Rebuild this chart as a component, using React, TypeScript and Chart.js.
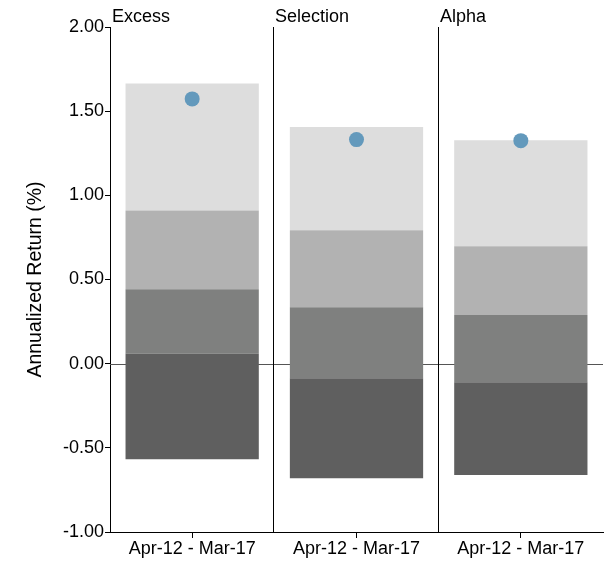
import React, { useEffect, useRef } from "react";
import { Chart, registerables } from "chart.js";

Chart.register(...registerables);

const categories = ["Excess", "Selection", "Alpha"];
const periodLabel = "Apr-12 - Mar-17";
const bandBottom = [-0.568, -0.681, -0.661];
const bandQ1 = [0.06, -0.087, -0.11];
const bandMedian = [0.442, 0.335, 0.289];
const bandQ3 = [0.91, 0.793, 0.698];
const bandTop = [1.664, 1.406, 1.327];
const actualReturn = [1.573, 1.331, 1.325];
const yTicks = [-1, -0.5, 0, 0.5, 1, 1.5, 2];

const FONT = "'Liberation Sans', Arial, Helvetica, sans-serif";

const panelPlugin = {
  id: "panelPlugin",
  beforeDatasetsDraw(chart: any) {
    const { ctx, chartArea, scales } = chart;
    const x = scales.x;
    const y = scales.y;
    ctx.save();
    const y0 = Math.round(y.getPixelForValue(0)) + 0.5;
    ctx.strokeStyle = "#555555";
    ctx.lineWidth = 1;
    ctx.beginPath();
    ctx.moveTo(chartArea.left, y0);
    ctx.lineTo(chartArea.right, y0);
    ctx.stroke();
    ctx.strokeStyle = "#000000";
    for (let i = 1; i < categories.length; i++) {
      const px = Math.round((x.getPixelForValue(i - 1) + x.getPixelForValue(i)) / 2) - 0.5;
      ctx.beginPath();
      ctx.moveTo(px, chartArea.top);
      ctx.lineTo(px, chartArea.bottom);
      ctx.stroke();
    }
    ctx.restore();
  },
  afterDraw(chart: any) {
    const { ctx, chartArea, scales } = chart;
    const x = scales.x;
    ctx.save();
    ctx.fillStyle = "#000000";
    ctx.font = `18px ${FONT}`;
    ctx.textAlign = "left";
    ctx.textBaseline = "alphabetic";
    for (let i = 0; i < categories.length; i++) {
      const left =
        i === 0
          ? chartArea.left
          : Math.round((x.getPixelForValue(i - 1) + x.getPixelForValue(i)) / 2) - 1;
      ctx.fillText(categories[i], left + 2, 22);
    }
    ctx.restore();
  },
};

export default function App() {
  const ref = useRef<HTMLCanvasElement>(null);
  useEffect(() => {
    if (!ref.current) return;
    const bands = [
      { lo: bandBottom, hi: bandQ1, color: "#5f5f5f" },
      { lo: bandQ1, hi: bandMedian, color: "#7f807f" },
      { lo: bandMedian, hi: bandQ3, color: "#b2b2b2" },
      { lo: bandQ3, hi: bandTop, color: "#dddddd" },
    ];
    const datasets: any[] = bands.map((b) => ({
      type: "bar",
      data: categories.map((_, i) => [b.lo[i], b.hi[i]]),
      backgroundColor: b.color,
      borderWidth: 0,
      categoryPercentage: 1,
      barPercentage: 0.811,
      order: 1,
    }));
    datasets.push({
      type: "line",
      data: actualReturn,
      showLine: false,
      pointRadius: 7.5,
      pointHoverRadius: 7.5,
      pointBackgroundColor: "#6399bc",
      pointBorderWidth: 0,
      borderWidth: 0,
      order: 0,
    });
    const chart = new Chart(ref.current, {
      type: "bar",
      data: { labels: categories, datasets },
      options: {
        animation: false,
        responsive: false,
        maintainAspectRatio: false,
        layout: { padding: { top: 27, right: 9, left: 0, bottom: 0 } },
        plugins: { legend: { display: false }, tooltip: { enabled: false } },
        scales: {
          x: {
            stacked: true,
            offset: true,
            grid: {
              offset: false,
              drawOnChartArea: false,
              drawTicks: true,
              tickLength: 6,
              color: "#000000",
            },
            border: { display: true, color: "#000000", width: 1 },
            ticks: {
              color: "#000000",
              font: { family: FONT, size: 18 },
              padding: 0,
              maxRotation: 0,
              callback: () => periodLabel,
            },
            afterFit: (s: any) => {
              s.height = 31;
            },
          },
          y: {
            min: -1,
            max: 2,
            afterBuildTicks: (s: any) => {
              s.ticks = yTicks.map((v) => ({ value: v }));
            },
            grid: {
              drawOnChartArea: false,
              drawTicks: true,
              tickLength: 5,
              color: "#000000",
            },
            border: { display: true, color: "#000000", width: 1 },
            ticks: {
              color: "#000000",
              font: { family: FONT, size: 18 },
              padding: 1,
              callback: (v: any) => Number(v).toFixed(2),
            },
            title: {
              display: true,
              text: "Annualized Return (%)",
              color: "#000000",
              font: { family: FONT, size: 19.5 },
              padding: { top: 24, bottom: 0 },
            },
            afterFit: (s: any) => {
              s.width = 110;
            },
          },
        },
      },
      plugins: [panelPlugin],
    });
    return () => chart.destroy();
  }, []);
  return (
    <div style={{ position: "fixed", left: 0, top: 0, width: 612, height: 563, background: "#fff" }}>
      <canvas ref={ref} width={612} height={563} style={{ width: 612, height: 563 }} />
    </div>
  );
}
